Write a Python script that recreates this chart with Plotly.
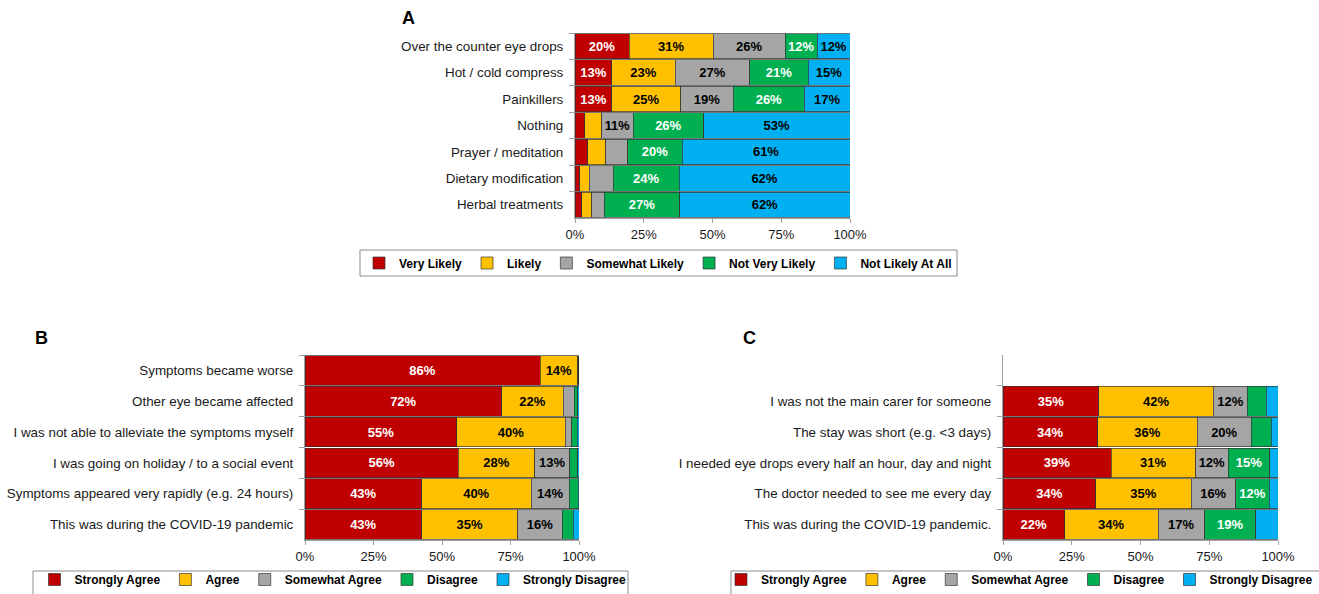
import plotly.graph_objects as go

W, H = 1319, 594
FONT = "Liberation Sans, Arial, sans-serif"

# ---------------- data ----------------
series_A = ["Very Likely", "Likely", "Somewhat Likely", "Not Very Likely", "Not Likely At All"]
series_BC = ["Strongly Agree", "Agree", "Somewhat Agree", "Disagree", "Strongly Disagree"]

cats_A = ["Over the counter eye drops", "Hot / cold compress", "Painkillers", "Nothing",
          "Prayer / meditation", "Dietary modification", "Herbal treatments"]
A_very_likely = [19.7, 13.4, 13.4, 3.6, 4.6, 1.8, 2.4]
A_likely = [30.6, 23.0, 25.0, 6.1, 6.6, 3.3, 3.7]
A_somewhat = [26.1, 27.2, 19.2, 11.4, 8.0, 8.8, 4.6]
A_not_very = [11.7, 21.2, 25.8, 25.7, 19.8, 24.0, 27.4]
A_not_at_all = [11.9, 15.2, 16.6, 53.2, 61.0, 62.1, 61.9]

cats_B = ["Symptoms became worse", "Other eye became affected",
          "I was not able to alleviate the symptoms myself",
          "I was going on holiday / to a social event",
          "Symptoms appeared very rapidly (e.g. 24 hours)",
          "This was during the COVID-19 pandemic"]
B_strongly_agree = [85.8, 71.8, 55.4, 56.0, 42.6, 42.6]
B_agree = [13.7, 22.5, 39.6, 27.8, 39.9, 35.0]
B_somewhat = [0.2, 4.0, 2.4, 12.9, 14.0, 16.3]
B_disagree = [0.2, 1.2, 1.9, 2.8, 3.3, 4.0]
B_strongly_disagree = [0.1, 0.5, 0.7, 0.5, 0.2, 2.1]

cats_C = ["I was not the main carer for someone", "The stay was short (e.g. <3 days)",
          "I needed eye drops every half an hour, day and night",
          "The doctor needed to see me every day",
          "This was during the COVID-19 pandemic."]
C_strongly_agree = [34.9, 34.4, 39.3, 33.8, 22.4]
C_agree = [41.6, 36.3, 30.7, 34.6, 34.0]
C_somewhat = [12.4, 19.6, 11.9, 16.2, 16.9]
C_disagree = [6.9, 7.3, 15.1, 12.2, 18.6]
C_strongly_disagree = [4.2, 2.4, 3.0, 3.2, 8.1]

tick_vals = [0, 25, 50, 75, 100]
tick_text = ["0%", "25%", "50%", "75%", "100%"]

colors = ["#C00000", "#FFC000", "#A5A5A5", "#00B050", "#00B0F0"]
label_colors = ["white", "black", "black", "white", "black"]
LABEL_MIN = 10

panels = [
    ("A", cats_A, series_A, [A_very_likely, A_likely, A_somewhat, A_not_very, A_not_at_all], "x", "y", "legend"),
    ("B", cats_B, series_BC, [B_strongly_agree, B_agree, B_somewhat, B_disagree, B_strongly_disagree], "x2", "y2", "legend2"),
    ("C", cats_C, series_BC, [C_strongly_agree, C_agree, C_somewhat, C_disagree, C_strongly_disagree], "x3", "y3", "legend3"),
]

fig = go.Figure()
for _, cats, names, values, xa, ya, lg in panels:
    for i, (name, vals) in enumerate(zip(names, values)):
        fig.add_trace(go.Bar(
            y=cats, x=vals, orientation="h", name=name,
            marker=dict(color=colors[i], line=dict(color="rgba(50,50,50,0.85)", width=0.8)),
            text=[f"{round(v)}%" if v >= LABEL_MIN else "" for v in vals],
            textposition="inside", insidetextanchor="middle",
            textfont=dict(family=FONT, size=13, color=label_colors[i], weight="bold"),
            xaxis=xa, yaxis=ya, legend=lg, hoverinfo="skip",
        ))

def px_x(p):
    return p / W

def px_y(p):
    return 1 - p / H

AXC = "#A0A0A0"

def xax(x0, x1, anchor):
    return dict(domain=[px_x(x0), px_x(x1)], range=[0, 100], tickvals=tick_vals, ticktext=tick_text,
                showline=True, linecolor=AXC, linewidth=1, ticks="outside", ticklen=4, tickcolor=AXC,
                showgrid=False, zeroline=False, tickfont=dict(family=FONT, size=13, color="#1a1a1a"),
                anchor=anchor, fixedrange=True, ticklabelstandoff=0, automargin=False)

def yax(y0, y1, rng, anchor):
    return dict(domain=[px_y(y1), px_y(y0)], type="category", range=rng,
                showline=True, linecolor=AXC, linewidth=1, ticks="outside", ticklen=5, tickcolor=AXC,
                tickson="boundaries", showgrid=False, zeroline=False,
                tickfont=dict(family=FONT, size=13.4, color="#1a1a1a"),
                anchor=anchor, fixedrange=True, ticklabelstandoff=8, automargin=False)

legend_common = dict(orientation="h", bgcolor="rgba(0,0,0,0)", borderwidth=0,
                     font=dict(family=FONT, size=12, color="black", weight="bold"),
                     traceorder="normal", itemwidth=30)

fig.update_layout(
    width=W, height=H, autosize=False,
    margin=dict(l=0, r=0, t=0, b=0),
    paper_bgcolor="white", plot_bgcolor="white",
    barmode="stack", bargap=0.04,
    showlegend=True,
    xaxis=xax(575, 850, "y"),
    yaxis=yax(33, 218, [len(cats_A) - 0.5, -0.5], "x"),
    xaxis2=xax(305, 579, "y2"),
    yaxis2=yax(355, 540, [len(cats_B) - 0.5, -0.5], "x2"),
    xaxis3=xax(1003, 1278, "y3"),
    yaxis3=yax(355, 540, [len(cats_C) - 0.5, -1.5], "x3"),
    legend=dict(legend_common, x=px_x(658), xanchor="center", y=px_y(263), yanchor="middle"),
    legend2=dict(legend_common, x=px_x(333), xanchor="center", y=0, yanchor="bottom"),
    legend3=dict(legend_common, x=px_x(1318), xanchor="right", y=0, yanchor="bottom"),
)

# legend frames
for (x0, y0, x1, y1) in [(360, 250, 957, 276), (33, 571, 628, 600), (731, 571, 1325, 600)]:
    fig.add_shape(type="rect", xref="paper", yref="paper",
                  x0=px_x(x0), x1=px_x(x1), y0=px_y(y1), y1=px_y(y0),
                  line=dict(color="#8c8c8c", width=1), fillcolor="rgba(0,0,0,0)", layer="below")

for letter, x, y in [("A", 408, 18), ("B", 41, 338), ("C", 750, 338)]:
    fig.add_annotation(text=letter, xref="paper", yref="paper", x=px_x(x), y=px_y(y),
                       xanchor="center", yanchor="middle", showarrow=False,
                       font=dict(family=FONT, size=18, color="black", weight="bold"))

fig.write_html("out.html", config={"displayModeBar": False},
               post_script="document.body.style.margin='0px';")
